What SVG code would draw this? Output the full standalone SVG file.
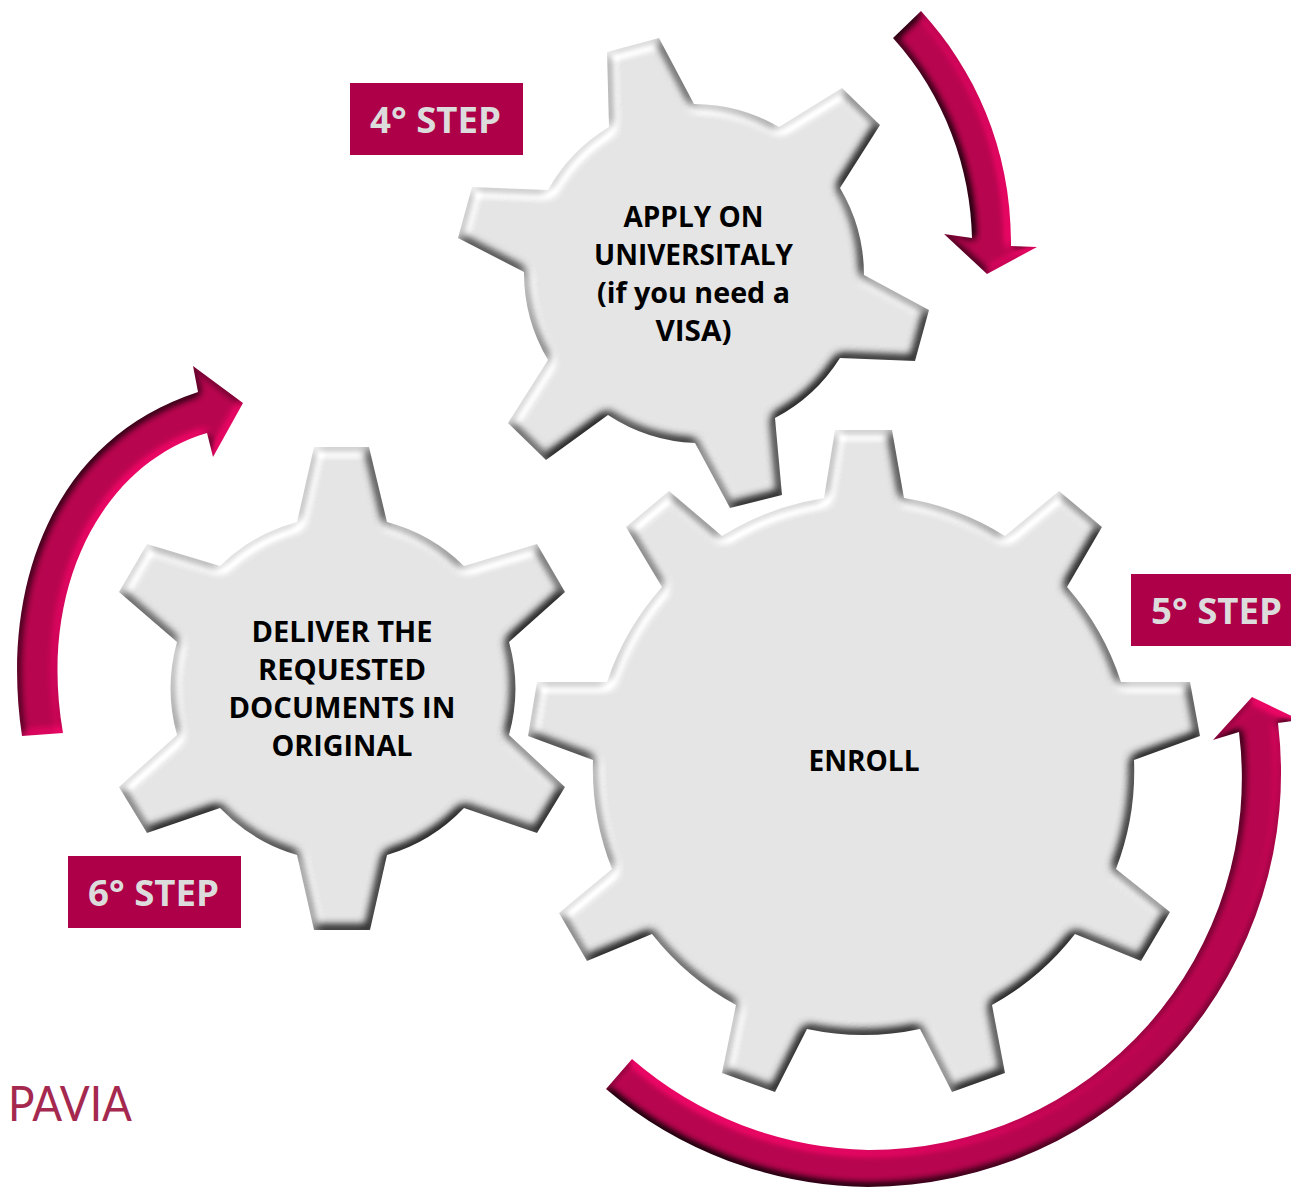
<svg xmlns="http://www.w3.org/2000/svg" width="1291" height="1188" viewBox="0 0 1291 1188">
<style>
.t{font-family:"Open Sans","Noto Sans","DejaVu Sans",sans-serif;font-weight:700;font-size:29px;fill:#000;text-anchor:middle}
.s{font-family:"Open Sans","Noto Sans","DejaVu Sans",sans-serif;font-weight:700;font-size:36px;fill:#dcdcdc;text-anchor:start}
.r{fill:#ae0048}
.g{filter:url(#bevel)}
</style>
<defs>
<filter id="bevel" filterUnits="userSpaceOnUse" x="0" y="0" width="1320" height="1200" color-interpolation-filters="sRGB">
<feGaussianBlur in="SourceAlpha" stdDeviation="5.5" result="h"/>
<feDiffuseLighting in="h" surfaceScale="9" diffuseConstant="1" lighting-color="#fff" result="l"><feDistantLight azimuth="235" elevation="64"/></feDiffuseLighting>
<feComposite in="l" in2="SourceAlpha" operator="in"/>
</filter>
<filter id="a4" filterUnits="userSpaceOnUse" x="0" y="0" width="1320" height="1200" color-interpolation-filters="sRGB">
<feGaussianBlur in="SourceAlpha" stdDeviation="4" result="h"/>
<feDiffuseLighting in="h" surfaceScale="5" diffuseConstant="1" lighting-color="#ea0664" result="l"><feDistantLight azimuth="15" elevation="52"/></feDiffuseLighting>
<feComposite in="l" in2="SourceAlpha" operator="in"/>
</filter>
<filter id="a5" filterUnits="userSpaceOnUse" x="0" y="0" width="1320" height="1200" color-interpolation-filters="sRGB">
<feGaussianBlur in="SourceAlpha" stdDeviation="4" result="h"/>
<feDiffuseLighting in="h" surfaceScale="5" diffuseConstant="1" lighting-color="#ea0664" result="l"><feDistantLight azimuth="300" elevation="52"/></feDiffuseLighting>
<feComposite in="l" in2="SourceAlpha" operator="in"/>
</filter>
<filter id="a6" filterUnits="userSpaceOnUse" x="0" y="0" width="1320" height="1200" color-interpolation-filters="sRGB">
<feGaussianBlur in="SourceAlpha" stdDeviation="4" result="h"/>
<feDiffuseLighting in="h" surfaceScale="4" diffuseConstant="1" lighting-color="#ea0664" result="l"><feDistantLight azimuth="50" elevation="52"/></feDiffuseLighting>
<feComposite in="l" in2="SourceAlpha" operator="in"/>
</filter>
</defs>
<rect width="1291" height="1188" fill="#fff"/>
<g id="connectors">
<path id="arrow-4" filter="url(#a4)" fill="#ea0664" d="M893,38 L921,11 C975,70 1012,150 1011,246 L1037,247 L987,274 L944,234 L972,238 C971,170 945,95 893,38 Z"/>
<path id="arrow-5" filter="url(#a5)" fill="#ea0664" d="M632,1059 A372,372 0 0 0 868,1150 A372,372 0 0 0 1239,732 L1213,740 L1252,697 L1300,720 L1278,723 A414,414 0 0 1 868,1187 A412,412 0 0 1 606,1089 Z"/>
<path id="arrow-6" filter="url(#a6)" fill="#ea0664" d="M22,736 C0,590 50,440 198,392 L193,366 L243,403 L213,457 L207,433 C100,465 38,590 63,733 Z"/>
</g>
<g id="node-apply">
<path class="g" fill="#e5e5e5" d="M607,52 L659,38 L694,104 A170,170 0 0 1 779,127 L842,88 L880,125 L840,188 A170,170 0 0 1 864,275 L929,310 L915,361 L840,358 A170,170 0 0 1 775,418 L782,495 L730,508 L695,443 A170,170 0 0 1 608,415 L546,460 L508,423 L548,360 A170,170 0 0 1 524,272 L458,238 L472,187 L548,190 A170,170 0 0 1 609,127 Z"/>
<text class="t" x="693.5" y="227" textLength="140" lengthAdjust="spacingAndGlyphs">APPLY ON</text>
<text class="t" x="693.5" y="265" textLength="199" lengthAdjust="spacingAndGlyphs">UNIVERSITALY</text>
<text class="t" x="693.5" y="303" textLength="193" lengthAdjust="spacingAndGlyphs">(if you need a</text>
<text class="t" x="693.5" y="341" textLength="76" lengthAdjust="spacingAndGlyphs">VISA)</text>
</g>
<g id="node-enroll">
<path class="g" fill="#e5e5e5" d="M835,430 L892,430 L904,498 A271,271 0 0 1 1005,536 L1059,491 L1102,527 L1067,587 A271,271 0 0 1 1121,682 L1190,682 L1200,736 L1134,760 A271,271 0 0 1 1116,869 L1170,912 L1141,961 L1075,934 A271,271 0 0 1 992,1005 L1005,1073 L952,1092 L920,1029 A271,271 0 0 1 807,1029 L775,1092 L722,1073 L736,1005 A271,271 0 0 1 652,934 L587,961 L559,913 L612,869 A271,271 0 0 1 593,760 L528,736 L537,682 L607,682 A271,271 0 0 1 662,587 L626,527 L669,491 L722,536 A271,271 0 0 1 824,498 Z"/>
<text class="t" x="864" y="770.5" textLength="111" lengthAdjust="spacingAndGlyphs">ENROLL</text>
</g>
<g id="node-deliver">
<path class="g" fill="#e5e5e5" d="M314,447 L369,447 L387,522 A173,173 0 0 1 464,566 L537,544 L565,592 L509,642 A173,173 0 0 1 509,735 L565,787 L537,833 L464,808 A173,173 0 0 1 387,855 L370,930 L314,930 L297,855 A173,173 0 0 1 220,808 L147,833 L119,787 L177,735 A173,173 0 0 1 177,642 L119,592 L147,544 L220,566 A173,173 0 0 1 297,522 Z"/>
<text class="t" x="342" y="642" textLength="181" lengthAdjust="spacingAndGlyphs">DELIVER THE</text>
<text class="t" x="342" y="680" textLength="168" lengthAdjust="spacingAndGlyphs">REQUESTED</text>
<text class="t" x="342" y="718" textLength="227" lengthAdjust="spacingAndGlyphs">DOCUMENTS IN</text>
<text class="t" x="342" y="756" textLength="141" lengthAdjust="spacingAndGlyphs">ORIGINAL</text>
</g>
<g id="label-4">
<rect class="r" x="350" y="83" width="173" height="72"/>
<text class="s" x="370" y="133" textLength="131" lengthAdjust="spacingAndGlyphs">4° STEP</text>
</g>
<g id="label-5">
<rect class="r" x="1131" y="574" width="160" height="72"/>
<text class="s" x="1151" y="624" textLength="131" lengthAdjust="spacingAndGlyphs">5° STEP</text>
</g>
<g id="label-6">
<rect class="r" x="68" y="856" width="173" height="72"/>
<text class="s" x="88" y="906" textLength="131" lengthAdjust="spacingAndGlyphs">6° STEP</text>
</g>
<text id="logo" x="8" y="1121" font-family="Lato,'Open Sans',sans-serif" font-weight="400" font-size="49" fill="#a5294f" textLength="124" lengthAdjust="spacingAndGlyphs">PAVIA</text>
</svg>
